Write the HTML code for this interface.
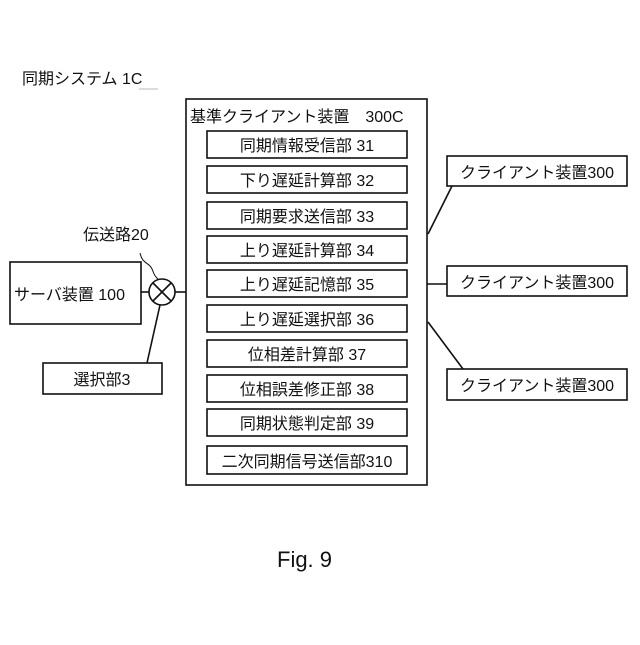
<!DOCTYPE html>
<html><head><meta charset="utf-8"><style>
body{margin:0;background:#fff;width:640px;height:640px;overflow:hidden}
svg text{font-family:"Liberation Sans","Noto Sans CJK JP",sans-serif;fill:#111}
</style></head><body>
<svg width="640" height="640" xmlns="http://www.w3.org/2000/svg">
<g stroke="#111" stroke-width="1.6" fill="none">
<rect x="186" y="99" width="241" height="386"/>
<rect x="207" y="131" width="200" height="27"/>
<rect x="207" y="166" width="200" height="27"/>
<rect x="207" y="202" width="200" height="27"/>
<rect x="207" y="236" width="200" height="27"/>
<rect x="207" y="270" width="200" height="27"/>
<rect x="207" y="305" width="200" height="27"/>
<rect x="207" y="340" width="200" height="27"/>
<rect x="207" y="375" width="200" height="27"/>
<rect x="207" y="409" width="200" height="27"/>
<rect x="207" y="446" width="200" height="28"/>
<rect x="447" y="156" width="180" height="30"/>
<rect x="447" y="266" width="180" height="30"/>
<rect x="447" y="369" width="180" height="31"/>
<rect x="10" y="262" width="131" height="62"/>
<rect x="43" y="363" width="119" height="31"/>
<line x1="428" y1="234" x2="452" y2="186"/>
<line x1="427" y1="284" x2="447" y2="284"/>
<line x1="428" y1="322" x2="463" y2="369"/>
<line x1="141" y1="292" x2="149" y2="292"/>
<line x1="175" y1="292" x2="186" y2="292"/>
<line x1="147" y1="363" x2="160" y2="305"/>
<circle cx="162" cy="292" r="13"/>
<line x1="153" y1="283" x2="171" y2="301"/>
<line x1="171" y1="283" x2="153" y2="301"/>
<path d="M140 253 C142 262,146 262,150 266 C154 270,152 274,158 279" stroke-width="1"/>
<line x1="139" y1="89" x2="158" y2="89" stroke="#bbb" stroke-width="1"/>
</g>
<g font-size="16">
<text x="22" y="84">同期システム <tspan font-size="16">1C</tspan></text>
<text x="190" y="122">基準クライアント装置　300C</text>
<g text-anchor="middle">
<text x="307" y="151">同期情報受信部 31</text>
<text x="307" y="186">下り遅延計算部 32</text>
<text x="307" y="222">同期要求送信部 33</text>
<text x="307" y="256">上り遅延計算部 34</text>
<text x="307" y="290">上り遅延記憶部 35</text>
<text x="307" y="325">上り遅延選択部 36</text>
<text x="307" y="360">位相差計算部 37</text>
<text x="307" y="395">位相誤差修正部 38</text>
<text x="307" y="429">同期状態判定部 39</text>
<text x="307" y="467">二次同期信号送信部310</text>
<text x="537" y="178">クライアント装置300</text>
<text x="537" y="288">クライアント装置300</text>
<text x="537" y="391">クライアント装置300</text>
<text x="102" y="385">選択部3</text>
</g>
<text x="14" y="300">サーバ装置 100</text>
<text x="83" y="240">伝送路20</text>
<text x="277" y="567" font-size="22" font-family="Liberation Mono,monospace">Fig. 9</text>
</g>
</svg>
</body></html>
